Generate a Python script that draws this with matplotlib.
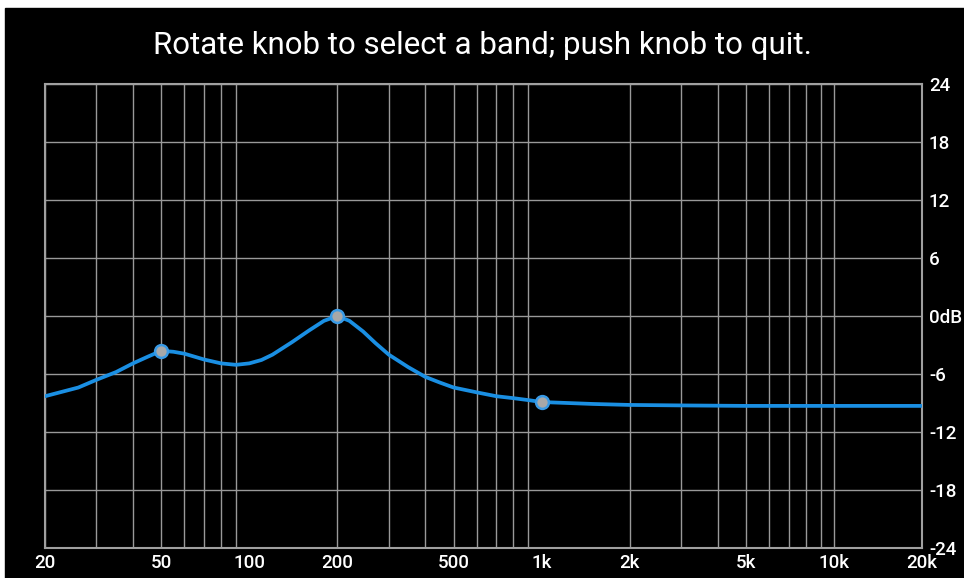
import numpy as np
import matplotlib.pyplot as plt
from matplotlib.patches import Rectangle
from matplotlib.ticker import FixedLocator, NullFormatter

plt.rcParams['font.family'] = ['Roboto', 'DejaVu Sans']

# Curba de răspuns citită din imagine (Hz, dB)
freq = [20, 26, 30, 35, 40, 45, 50, 55, 60, 70, 80, 90, 100, 110, 120, 140,
        160, 180, 200, 220, 245, 270, 300, 350, 400, 450, 500, 600, 700, 800,
        900, 1000, 1500, 2000, 3000, 5000, 10000, 20000]
gain = [-8.3, -7.4, -6.6, -5.8, -4.9, -4.2, -3.6, -3.7, -3.9, -4.5, -4.9, -5.05,
        -4.9, -4.55, -4.0, -2.7, -1.5, -0.5, 0.0, -0.5, -1.6, -2.8, -4.0, -5.3,
        -6.3, -6.9, -7.4, -7.9, -8.3, -8.5, -8.7, -8.9, -9.1, -9.2, -9.25, -9.3,
        -9.3, -9.3]

# Benzile (puncte de control)
band_freq = [50, 200, 1000]
band_gain = [-3.6, 0.0, -8.9]

x_ticks = [20, 50, 100, 200, 500, 1000, 2000, 5000, 10000, 20000]
x_labels = ['20', '50', '100', '200', '500', '1k', '2k', '5k', '10k', '20k']
x_grid = [f * d for d in (10, 100, 1000) for f in range(2, 10)] + [10000, 20000]
y_ticks = [-24, -18, -12, -6, 0, 6, 12, 18, 24]
y_labels = ['-24', '-18', '-12', '-6', '0dB', '6', '12', '18', '24']

fig = plt.figure(figsize=(9.64, 5.78), dpi=100, facecolor='white')
fig.patches.append(Rectangle((5 / 964, 0), 959 / 964, 570 / 578,
                             transform=fig.transFigure, color='black', zorder=-1))

ax = fig.add_axes([45 / 964, 1 - 548 / 578, 877 / 964, 464 / 578])
ax.set_facecolor('black')
ax.set_xscale('log')
ax.set_xlim(20, 20000)
ax.set_ylim(-24, 24)

# Grila
for f in x_grid:
    ax.axvline(f, color='#999999', lw=1.0, zorder=1)
for y in y_ticks:
    ax.axhline(y, color='#999999', lw=1.0, zorder=1)

ax.plot(freq, gain, color='#1a8fe3', lw=2.7, solid_capstyle='round',
        solid_joinstyle='round', zorder=3)
ax.scatter(band_freq, band_gain, s=85, color='#a8a8a8', edgecolor='#3a9be6',
           linewidth=1.8, zorder=4)

ax.xaxis.set_major_locator(FixedLocator(x_ticks))
ax.xaxis.set_minor_locator(FixedLocator([]))
ax.xaxis.set_minor_formatter(NullFormatter())
ax.set_xticks(x_ticks)
ax.set_xticklabels(x_labels)
ax.set_yticks(y_ticks)
ax.set_yticklabels(y_labels)
ax.yaxis.tick_right()
ax.tick_params(axis='both', length=0, colors='white', labelsize=13.5)
ax.tick_params(axis='x', pad=4)
ax.tick_params(axis='y', pad=5)
for lbl in ax.get_xticklabels() + ax.get_yticklabels():
    lbl.set_fontweight('medium')

for s in ax.spines.values():
    s.set_color('#a0a0a0')
    s.set_linewidth(1.5)

fig.text(0.5, 1 - 45 / 578, 'Rotate knob to select a band; push knob to quit.',
         color='white', fontsize=22.5, ha='center', va='center')

fig.savefig('out.png', dpi=100, facecolor='white')
